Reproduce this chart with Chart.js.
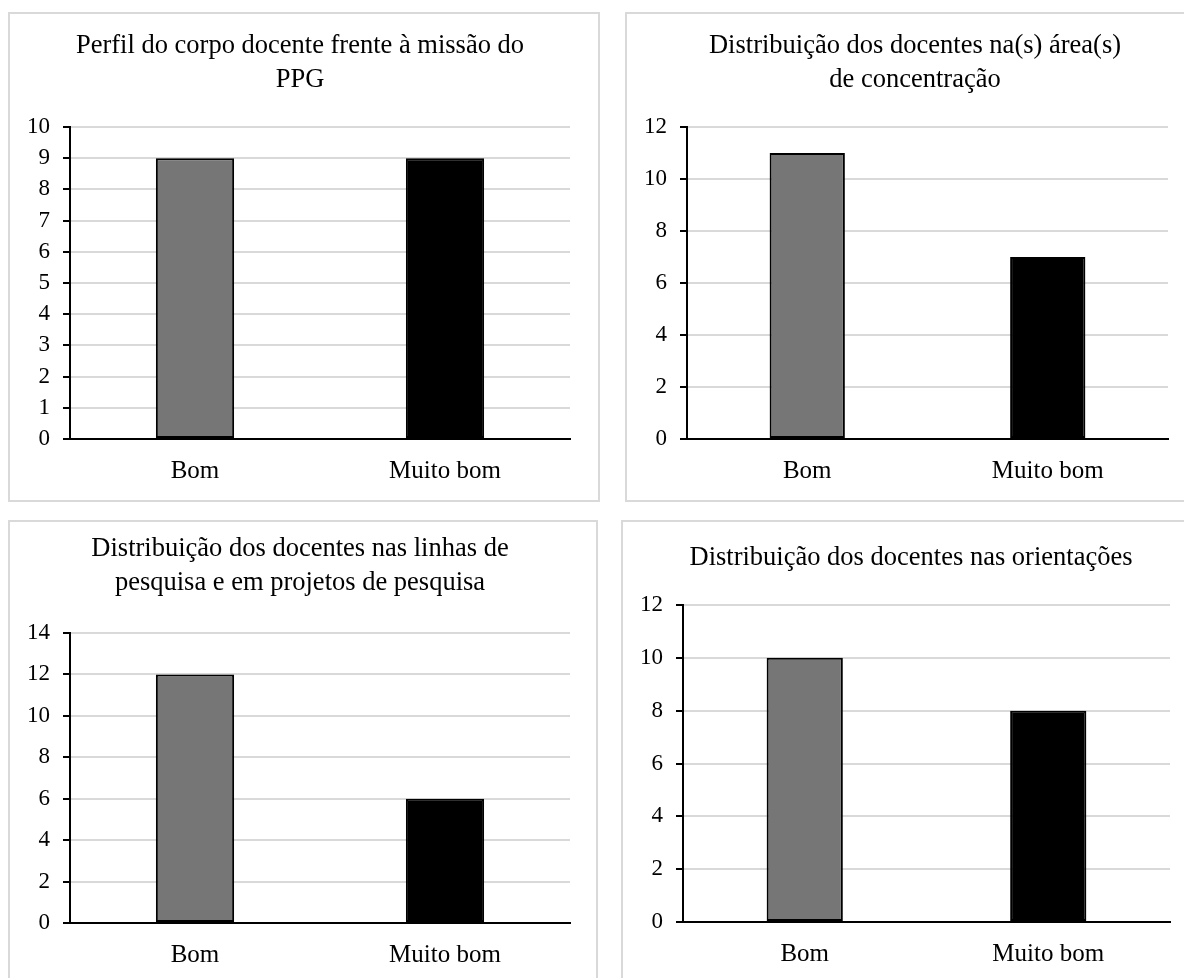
<!DOCTYPE html>
<html>
<head>
<meta charset="utf-8">
<script src="https://cdn.jsdelivr.net/npm/chart.js@4"></script>
<style>
  html, body { margin:0; padding:0; background:#fff; width:1184px; height:978px; overflow:hidden; }
  .panel { position:absolute; box-sizing:border-box; border:2px solid #d9d9d9; background:#fff; }
  .panel canvas { position:absolute; left:0; top:0; }
</style>
</head>
<body>
<div class="panel" id="p1"><canvas id="c1"></canvas></div>
<div class="panel" id="p2"><canvas id="c2"></canvas></div>
<div class="panel" id="p3"><canvas id="c3"></canvas></div>
<div class="panel" id="p4"><canvas id="c4"></canvas></div>
<script>
//─── 1. DATA ──────────────────────────────────────────────────────────────────
const categories   = ['Bom', 'Muito bom'];
const missaoValues = [9, 9];    // Perfil do corpo docente frente à missão do PPG
const areaValues   = [11, 7];   // Distribuição ... na(s) área(s) de concentração
const linhasValues = [12, 6];   // Distribuição ... linhas / projetos de pesquisa
const orientValues = [10, 8];   // Distribuição ... nas orientações
const yMaxes  = [10, 12, 14, 12];
const ySteps  = [1, 2, 2, 2];
const titles = [
  ['Perfil do corpo docente frente à missão do', 'PPG'],
  ['Distribuição dos docentes na(s) área(s)', 'de concentração'],
  ['Distribuição dos docentes nas linhas de', 'pesquisa e em projetos de pesquisa'],
  ['Distribuição dos docentes nas orientações']
];

(() => {
  //─── 2. LAYOUT (page px) ────────────────────────────────────────────────────
  const BW = 2;            // panel border
  const FONT = 'Liberation Serif, "Times New Roman", serif';
  const TITLE_SIZE = 26.5, TITLE_LH = 34;
  const barColors = ['#767676', '#000000'];

  const panels = [
    { x:8,   y:12,  w:592, h:490 },
    { x:625, y:12,  w:580, h:490 },
    { x:8,   y:520, w:590, h:470 },
    { x:621, y:520, w:580, h:470 }
  ];
  const plots = [
    { l:70,  r:570,  t:127, b:439 },
    { l:687, r:1168, t:127, b:439 },
    { l:70,  r:570,  t:633, b:923 },
    { l:683, r:1170, t:605, b:922 }
  ];
  const titleY  = [46, 46, 549, 558];    // centre of first title line
  const titleCx = [300, 915, 300, 911];  // horizontal centre of title
  const series = [missaoValues, areaValues, linhasValues, orientValues];

  // Excel-style title, centred on a fixed point rather than the chart box
  const panelTitle = {
    id: 'panelTitle',
    afterDraw(chart, args, o) {
      const ctx = chart.ctx;
      ctx.save();
      ctx.fillStyle = '#000';
      ctx.font = `${TITLE_SIZE}px ${FONT}`;
      ctx.textAlign = 'center';
      ctx.textBaseline = 'middle';
      o.lines.forEach((t, k) => ctx.fillText(t, o.cx, o.cy + k*TITLE_LH));
      ctx.restore();
    }
  };

  //─── 3. BUILD ───────────────────────────────────────────────────────────────
  series.forEach((vals, i) => {
    const p = panels[i], pl = plots[i];
    const div = document.getElementById('p' + (i+1));
    Object.assign(div.style, { left:p.x+'px', top:p.y+'px', width:p.w+'px', height:p.h+'px' });
    const cw = p.w - 2*BW, ch = p.h - 2*BW;
    const ox = p.x + BW, oy = p.y + BW;
    const cv = document.getElementById('c' + (i+1));
    cv.width = cw; cv.height = ch;

    const L = pl.l - ox, R = pl.r - ox, T = pl.t - oy, B = pl.b - oy;

    new Chart(cv, {
      type: 'bar',
      plugins: [panelTitle],
      data: {
        labels: categories,
        datasets: [{
          data: vals,
          backgroundColor: barColors,
          borderColor: '#000',
          borderWidth: 2,
          borderSkipped: false,
          barPercentage: 0.313,
          categoryPercentage: 1
        }]
      },
      options: {
        responsive: false,
        animation: false,
        events: [],
        layout: { padding: { left:0, right: cw - R, top: T, bottom:0 } },
        plugins: {
          legend: { display:false },
          tooltip: { enabled:false },
          title: { display:false },
          panelTitle: { lines: titles[i], cx: titleCx[i] - ox, cy: titleY[i] - oy }
        },
        scales: {
          x: {
            grid: { display:false, drawTicks:false },
            border: { color:'#000', width:2 },
            ticks: { color:'#000', padding:17, font:{ family:FONT, size:25 } },
            afterFit: s => { s.height = ch - B; }
          },
          y: {
            min: 0, max: yMaxes[i],
            grid: { color:'#d9d9d9', lineWidth:2, tickColor:'#000', tickWidth:2, tickLength:7 },
            border: { color:'#000', width:2 },
            ticks: { stepSize: ySteps[i], color:'#000', padding:13, font:{ family:FONT, size:23 } },
            afterFit: s => { s.width = L; }
          }
        }
      }
    });
  });
})();
</script>
</body>
</html>
